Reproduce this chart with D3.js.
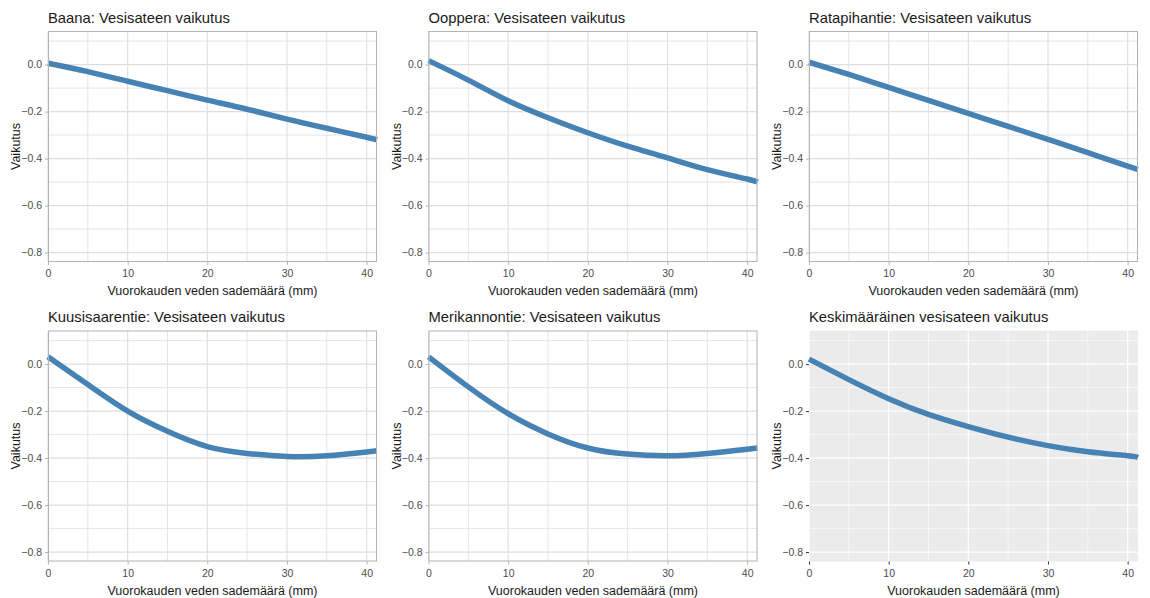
<!DOCTYPE html>
<html>
<head>
<meta charset="utf-8">
<script src="https://cdn.jsdelivr.net/npm/d3@7"></script>
<style>
  body { margin: 0; background: #fff; }
  svg text { font-family: "Liberation Sans", Arial, sans-serif; }
</style>
</head>
<body>
<svg id="chart"></svg>
<script>
const rain = [0, 5, 10, 15, 20, 25, 30, 35, 40, 41.3];

const baana        = [0.006, -0.030, -0.071, -0.111, -0.151, -0.190, -0.232, -0.271, -0.309, -0.320];
const ooppera      = [0.017, -0.066, -0.154, -0.226, -0.290, -0.347, -0.397, -0.447, -0.487, -0.500];
const ratapihantie = [0.010, -0.042, -0.097, -0.152, -0.208, -0.263, -0.318, -0.375, -0.432, -0.446];
const kuusisaari   = [0.031, -0.087, -0.200, -0.286, -0.351, -0.380, -0.393, -0.390, -0.374, -0.369];
const merikannonti = [0.031, -0.097, -0.211, -0.297, -0.357, -0.383, -0.390, -0.380, -0.362, -0.357];
const keskiarvo    = [0.021, -0.066, -0.147, -0.214, -0.266, -0.311, -0.347, -0.373, -0.390, -0.397];

const titles = [
  "Baana: Vesisateen vaikutus",
  "Ooppera: Vesisateen vaikutus",
  "Ratapihantie: Vesisateen vaikutus",
  "Kuusisaarentie: Vesisateen vaikutus",
  "Merikannontie: Vesisateen vaikutus",
  "Keskimääräinen vesisateen vaikutus"
];
const xTitles = [
  "Vuorokauden veden sademäärä (mm)",
  "Vuorokauden veden sademäärä (mm)",
  "Vuorokauden veden sademäärä (mm)",
  "Vuorokauden veden sademäärä (mm)",
  "Vuorokauden veden sademäärä (mm)",
  "Vuorokauden sademäärä (mm)"
];
const series = [baana, ooppera, ratapihantie, kuusisaari, merikannonti, keskiarvo];

const xMajor = [0, 10, 20, 30, 40];
const xMinor = [5, 15, 25, 35];
const yMajor = [0, -0.2, -0.4, -0.6, -0.8];
const yMinor = [0.1, -0.1, -0.3, -0.5, -0.7];

const W = 1150, H = 598;
const svg = d3.select("#chart").attr("width", W).attr("height", H);

const colLeft = [48, 428.5, 809];
const rowTop = [31, 330.5];
const pw = 329, ph = 231;

const x = d3.scaleLinear().domain([0, 41.3]).range([0, pw]);
const y = d3.scaleLinear().domain([-0.84, 0.143]).range([ph, 0]);

series.forEach((vals, i) => {
  const gray = i === 5;
  const g = svg.append("g")
    .attr("transform", `translate(${colLeft[i % 3]},${rowTop[Math.floor(i / 3)]})`);

  g.append("rect")
    .attr("width", pw).attr("height", ph)
    .attr("fill", gray ? "#EBEBEB" : "#fff");

  const gridCol = gray ? "#fff" : "#DEDEDE";
  // minor grid
  g.selectAll(".xmin").data(xMinor).join("line")
    .attr("x1", d => x(d)).attr("x2", d => x(d))
    .attr("y1", 0).attr("y2", ph)
    .attr("stroke", gridCol).attr("stroke-width", gray ? 0.6 : 0.8);
  g.selectAll(".ymin").data(yMinor).join("line")
    .attr("y1", d => y(d)).attr("y2", d => y(d))
    .attr("x1", 0).attr("x2", pw)
    .attr("stroke", gridCol).attr("stroke-width", gray ? 0.6 : 0.8);
  // major grid
  g.selectAll(".xmaj").data(xMajor).join("line")
    .attr("x1", d => x(d)).attr("x2", d => x(d))
    .attr("y1", 0).attr("y2", ph)
    .attr("stroke", gridCol).attr("stroke-width", gray ? 1.2 : 1.1);
  g.selectAll(".ymaj").data(yMajor).join("line")
    .attr("y1", d => y(d)).attr("y2", d => y(d))
    .attr("x1", 0).attr("x2", pw)
    .attr("stroke", gridCol).attr("stroke-width", gray ? 1.2 : 1.1);

  // the effect curve
  const line = d3.line()
    .x((d, j) => x(rain[j]))
    .y(d => y(d))
    .curve(d3.curveNatural);
  g.append("path")
    .datum(vals)
    .attr("d", line)
    .attr("fill", "none")
    .attr("stroke", "#4682B4")
    .attr("stroke-width", 5.5);

  if (!gray) {
    g.append("rect")
      .attr("x", 0.5).attr("y", 0.5)
      .attr("width", pw - 1).attr("height", ph - 1)
      .attr("fill", "none").attr("stroke", "#B3B3B3").attr("stroke-width", 1);
  }

  const tickCol = gray ? "#333" : "#B3B3B3";
  const xAxis = g.append("g").attr("transform", `translate(0,${ph})`)
    .call(d3.axisBottom(x).tickValues(xMajor).tickSize(3).tickPadding(5));
  const yAxis = g.append("g")
    .call(d3.axisLeft(y).tickValues(yMajor).tickSize(3).tickPadding(3).tickFormat(d3.format(".1f")));
  [xAxis, yAxis].forEach(a => {
    a.select(".domain").remove();
    a.selectAll("line").attr("stroke", tickCol);
    a.selectAll("text")
      .attr("fill", "#4D4D4D")
      .style("font-size", "10.5px")
      .style("font-family", "'Liberation Sans', Arial, sans-serif");
  });

  g.append("text")
    .attr("x", 0).attr("y", -8.5)
    .attr("fill", "#1a1a1a")
    .style("font-size", "14.8px")
    .text(titles[i]);

  g.append("text")
    .attr("x", pw / 2).attr("y", ph + 33)
    .attr("text-anchor", "middle")
    .attr("fill", "#1a1a1a")
    .style("font-size", "12.5px")
    .text(xTitles[i]);

  g.append("text")
    .attr("transform", `translate(-28,${ph / 2}) rotate(-90)`)
    .attr("text-anchor", "middle")
    .attr("fill", "#1a1a1a")
    .style("font-size", "12.5px")
    .text("Vaikutus");
});
</script>
</body>
</html>
